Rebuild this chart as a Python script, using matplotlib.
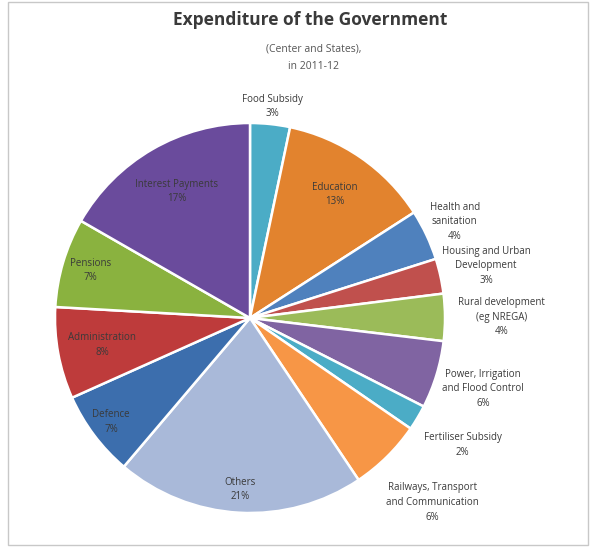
import matplotlib.pyplot as plt
from matplotlib.patches import Rectangle
import numpy as np

# data (clockwise from 12 o'clock)
names = ['Food Subsidy', 'Education', 'Health and\nsanitation', 'Housing and Urban\nDevelopment',
         'Rural development\n(eg NREGA)', 'Power, Irrigation\nand Flood Control', 'Fertiliser Subsidy',
         'Railways, Transport\nand Communication', 'Others', 'Defence',
         'Administration', 'Pensions', 'Interest Payments']
shares = [3.3, 12.6, 4.2, 2.9, 3.9, 5.6, 2.1, 6.0, 20.6, 7.1, 7.6, 7.4, 16.7]
colors = ['#4BACC6', '#E2832E', '#4F81BD', '#C0504D', '#9BBB59', '#8064A2', '#4BACC6',
          '#F79646', '#A9B9D9', '#3C6EAD', '#BE3B3B', '#8AB23F', '#6A4B9C']
label_r = [1.09, 0.77, 1.16, 1.24, 1.29, 1.25, 1.27, 1.33, 0.88, 0.89, 0.77, 0.855, 0.75]

fig = plt.figure(figsize=(6.0, 5.49), dpi=100)
plt.rcParams['font.family'] = ['Open Sans', 'DejaVu Sans']

# chart frame
fig.patches.append(Rectangle((8 / 600, 1 - 545 / 549), 580 / 600, 543 / 549,
                             transform=fig.transFigure, fill=False, edgecolor='#C8C8C8', lw=1))

fig.text(0.517, 0.963, 'Expenditure of the Government', ha='center', va='center',
         fontsize=12.5, fontweight='bold', color='#3A3A3A')
fig.text(0.522, 0.910, '(Center and States),', ha='center', va='center', fontsize=7.5, color='#555555')
fig.text(0.522, 0.878, 'in 2011-12', ha='center', va='center', fontsize=7.5, color='#555555')

ax = fig.add_axes([55 / 600, 1 - 513 / 549, 390 / 600, 390 / 549])
wedges, _ = ax.pie(shares, colors=colors, startangle=90, counterclock=False, radius=1,
                   wedgeprops=dict(edgecolor='white', linewidth=1.8))
ax.set_xlim(-1, 1)
ax.set_ylim(-1, 1)
ax.set_aspect('equal')
ax.axis('off')

for w, name, v, r in zip(wedges, names, shares, label_r):
    ang = np.deg2rad((w.theta1 + w.theta2) / 2)
    x, y = r * np.cos(ang), r * np.sin(ang)
    ax.text(x, y, name + '\n' + str(int(round(v))) + '%', ha='center', va='center',
            fontsize=7, color='#3A3A3A', linespacing=1.45, clip_on=False)

fig.savefig('out.png', dpi=100)
